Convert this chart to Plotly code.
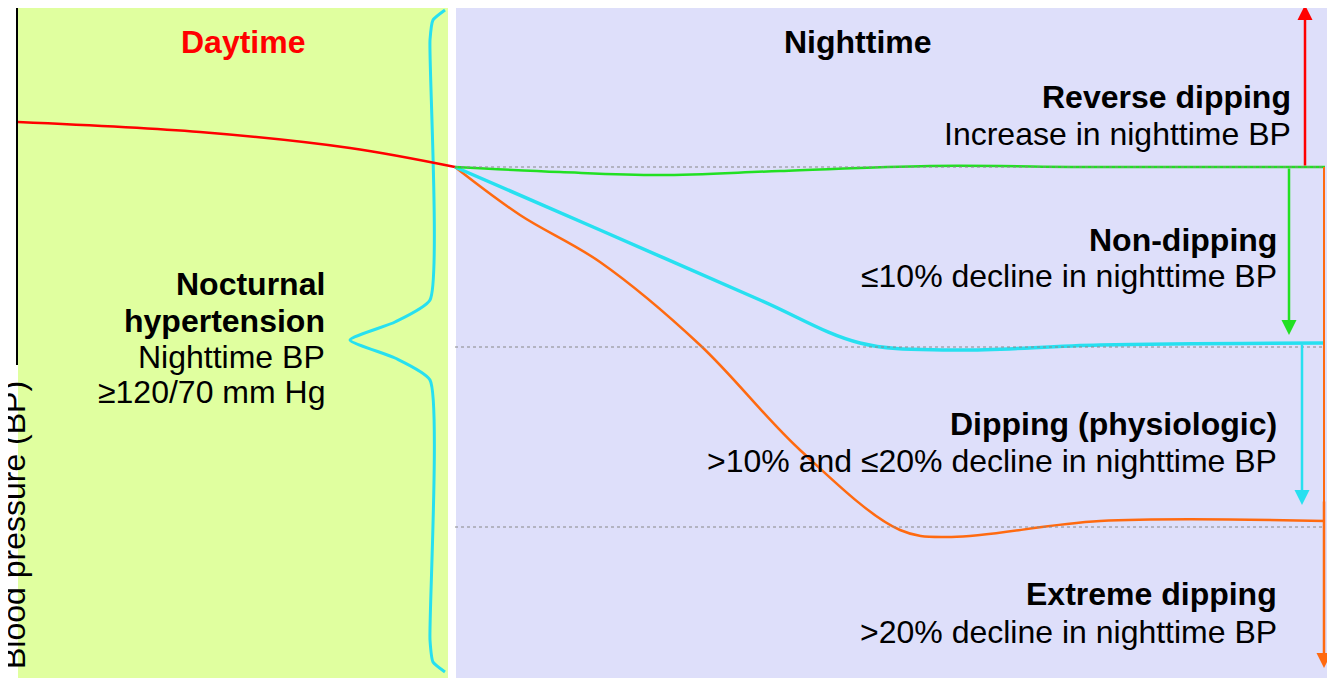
import plotly.graph_objects as go

# Diagram in a pixel-like coordinate space (x: 0..1335, y: 0..682 top-down)
red_x = [18, 200, 350, 455]
red_y = [122, 132, 148, 167]
green_x = [455, 560, 660, 780, 930, 1100, 1325]
green_y = [167, 172, 175, 171, 166, 167, 167]
cyan_x = [455, 600, 760, 860, 950, 1100, 1325]
cyan_y = [167, 230, 300, 343, 350, 345, 343]
orange_x = [455, 520, 600, 700, 800, 900, 950, 1100, 1325]
orange_y = [167, 215, 262, 345, 450, 530, 537, 521, 521]
brace_x = [445, 433, 430, 430, 395, 350, 395, 430, 430, 433, 445]
brace_y = [10, 20, 40, 300, 322, 340, 358, 380, 640, 662, 672]
ref_levels = [167, 347, 527]

fig = go.Figure()
shapes = [
    dict(type="rect", x0=18, x1=448, y0=5, y1=678, fillcolor="#e0ff9f", line_width=0, layer="below"),
    dict(type="rect", x0=456, x1=1330, y0=5, y1=678, fillcolor="#dedffa", line_width=0, layer="below"),
    dict(type="line", x0=17, x1=17, y0=0, y1=365, line=dict(color="black", width=2)),
    dict(type="line", x0=1324, x1=1324, y0=167, y1=655, line=dict(color="#ff6a10", width=2)),
]
for lv in ref_levels:
    shapes.append(dict(type="line", x0=455, x1=1325, y0=lv, y1=lv, line=dict(color="#888", width=1, dash="dot")))

fig.add_trace(go.Scatter(x=brace_x, y=brace_y, mode="lines", line=dict(color="#27e0f0", width=3, shape="spline", smoothing=0.5)))
fig.add_trace(go.Scatter(x=red_x, y=red_y, mode="lines", line=dict(color="#ff0000", width=2.5, shape="spline")))
fig.add_trace(go.Scatter(x=orange_x, y=orange_y, mode="lines", line=dict(color="#ff6a10", width=2.5, shape="spline")))
fig.add_trace(go.Scatter(x=cyan_x, y=cyan_y, mode="lines", line=dict(color="#27e0f0", width=3.5, shape="spline")))
fig.add_trace(go.Scatter(x=green_x, y=green_y, mode="lines", line=dict(color="#22e022", width=2.5, shape="spline")))

anns = []
def arrow(x, y0, y1, c):
    anns.append(dict(x=x, y=y1, ax=x, ay=y0, xref="x", yref="y", axref="x", ayref="y",
                     showarrow=True, arrowhead=2, arrowsize=1.2, arrowwidth=2.5, arrowcolor=c, text=""))
arrow(1305, 167, 5, "#ff0000")
arrow(1289, 167, 335, "#22e022")
arrow(1302, 343, 505, "#27e0f0")
arrow(1324, 500, 668, "#ff6a10")

FS = 32
def txt(x, y, t, bold=False, color="black", anchor="right"):
    anns.append(dict(x=x, y=y, text=f"<b>{t}</b>" if bold else t, showarrow=False,
                     xanchor=anchor, yanchor="middle", font=dict(size=FS, color=color)))
txt(243, 42, "Daytime", True, "#ff0000", "center")
txt(858, 42, "Nighttime", True, "black", "center")
txt(1293, 97, "Reverse dipping", True)
txt(1293, 134, "Increase in nighttime BP")
txt(1279, 240, "Non-dipping", True)
txt(1279, 276, "≤10% decline in nighttime BP")
txt(1279, 424, "Dipping (physiologic)", True)
txt(1279, 461, ">10% and ≤20% decline in nighttime BP")
txt(1279, 594, "Extreme dipping", True)
txt(1279, 632, ">20% decline in nighttime BP")
txt(327, 284, "Nocturnal", True)
txt(327, 321, "hypertension", True)
txt(327, 357, "Nighttime BP")
txt(327, 392, "≥120/70 mm Hg")
anns.append(dict(x=14, y=525, text="Blood pressure (BP)", textangle=-90, showarrow=False,
                 xanchor="center", yanchor="middle", font=dict(size=FS, color="black")))

# page body has an 8px margin: size the figure and shift ranges so coordinates map to screen pixels
fig.update_layout(
    width=1327, height=674, margin=dict(l=0, r=0, t=0, b=0),
    paper_bgcolor="white", plot_bgcolor="white", showlegend=False,
    shapes=shapes, annotations=anns,
    font=dict(family="Arial, Liberation Sans, sans-serif"),
    xaxis=dict(range=[8, 1335], visible=False, fixedrange=True),
    yaxis=dict(range=[682, 8], visible=False, fixedrange=True),
)
fig.write_html("out.html")
